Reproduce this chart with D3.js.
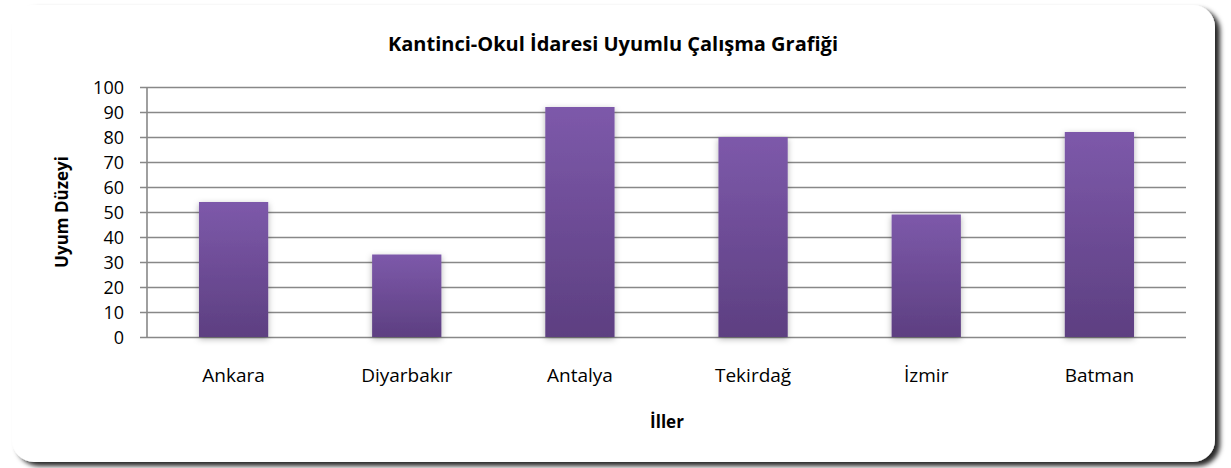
<!DOCTYPE html>
<html>
<head>
<meta charset="utf-8">
<script src="https://d3js.org/d3.v7.min.js"></script>
<style>
  body { margin: 0; background: #fff; }
  text { font-family: "Open Sans", sans-serif; fill: #000; }
</style>
</head>
<body>
<svg id="chart" width="1231" height="468"></svg>
<script>
const iller = ['Ankara', 'Diyarbakır', 'Antalya', 'Tekirdağ', 'İzmir', 'Batman'];
const uyum = [54, 33, 92, 80, 49, 82];
const yTicks = [0, 10, 20, 30, 40, 50, 60, 70, 80, 90, 100];

let m = { left: 147, right: 1186, top: 87, bottom: 337 };

const svg = d3.select('#chart');
const defs = svg.append('defs');

let sh = defs.append('filter').attr('id', 'cardShadow')
    .attr('x', '-5%').attr('y', '-5%').attr('width', '110%').attr('height', '115%');
sh.append('feDropShadow').attr('dx', 5).attr('dy', 4).attr('stdDeviation', 2.5)
    .attr('flood-color', '#000').attr('flood-opacity', 0.85);

let bs = defs.append('filter').attr('id', 'barShadow')
    .attr('x', '-30%').attr('y', '-10%').attr('width', '160%').attr('height', '125%');
bs.append('feDropShadow').attr('dx', 0).attr('dy', 2).attr('stdDeviation', 3)
    .attr('flood-color', '#000').attr('flood-opacity', 0.3);

let grad = defs.append('linearGradient').attr('id', 'barGrad')
    .attr('x1', 0).attr('y1', 0).attr('x2', 0).attr('y2', 1);
grad.append('stop').attr('offset', '0%').attr('stop-color', '#7d59aa');
grad.append('stop').attr('offset', '100%').attr('stop-color', '#5d3f81');

// card
svg.append('rect')
    .attr('x', 12).attr('y', 5)
    .attr('width', 1203).attr('height', 457)
    .attr('rx', 22)
    .attr('fill', '#fff')
    .attr('filter', 'url(#cardShadow)');

const x = d3.scaleBand().domain(iller).range([m.left, m.right]).paddingInner(0.6).paddingOuter(0.3);
const y = d3.scaleLinear().domain([0, 100]).range([m.bottom, m.top]);

// gridlines + ticks
const yAxis = d3.axisLeft(y).tickValues(yTicks).tickSize(-(m.right - m.left)).tickSizeOuter(0).tickPadding(23);
const ya = svg.append('g').attr('transform', 'translate(' + m.left + ',0)').call(yAxis);
ya.select('.domain').remove();
ya.selectAll('.tick line')
    .attr('x1', -7)
    .attr('stroke', '#888').attr('stroke-width', 1.6);
ya.selectAll('.tick text')
    .style('font-size', '18px').attr('dy', '0.35em');

// vertical axis line
svg.append('line')
    .attr('x1', m.left).attr('x2', m.left).attr('y1', m.top).attr('y2', m.bottom)
    .attr('stroke', '#888').attr('stroke-width', 1.6);

// bars
svg.append('g').selectAll('rect').data(uyum).join('rect')
    .attr('x', (d, i) => x(iller[i]))
    .attr('width', x.bandwidth())
    .attr('y', d => y(d))
    .attr('height', d => y(0) - y(d))
    .attr('fill', 'url(#barGrad)')
    .attr('filter', 'url(#barShadow)');

// x labels
const xAxis = d3.axisBottom(x).tickSize(0).tickPadding(32);
const xa = svg.append('g').attr('transform', 'translate(0,' + m.bottom + ')').call(xAxis);
xa.select('.domain').remove();
xa.selectAll('.tick text').style('font-size', '19px');

// titles
svg.append('text')
    .attr('x', 613).attr('y', 51)
    .attr('text-anchor', 'middle')
    .style('font-size', '20px').style('font-weight', 'bold')
    .text('Kantinci-Okul İdaresi Uyumlu Çalışma Grafiği');

svg.append('text')
    .attr('transform', 'translate(68,212) rotate(-90)')
    .attr('text-anchor', 'middle')
    .style('font-size', '17px').style('font-weight', 'bold')
    .text('Uyum Düzeyi');

svg.append('text')
    .attr('x', 667).attr('y', 428)
    .attr('text-anchor', 'middle')
    .style('font-size', '17px').style('font-weight', 'bold')
    .text('İller');
</script>
</body>
</html>
